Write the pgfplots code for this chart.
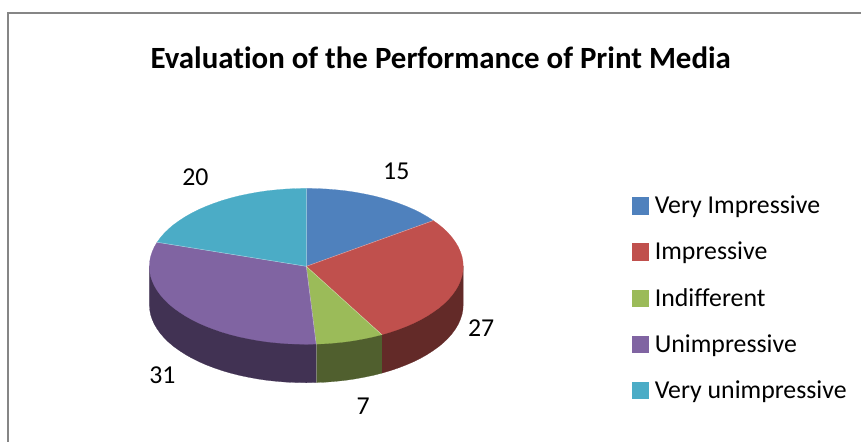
\documentclass[border=0pt]{standalone}
\usepackage{fontspec}
\setmainfont{Carlito}[Ligatures=NoCommon]
\usepackage{pgfplots}
\pgfplotsset{compat=1.18}
\definecolor{sA}{HTML}{4F81BD}
\definecolor{sB}{HTML}{C0504D}
\definecolor{sC}{HTML}{9BBB59}
\definecolor{sD}{HTML}{8064A2}
\definecolor{sE}{HTML}{4BACC6}
\definecolor{wB}{HTML}{632A28}
\definecolor{wC}{HTML}{505F2E}
\definecolor{wD}{HTML}{413253}
\definecolor{fr}{HTML}{868686}
\begin{document}
\begin{tikzpicture}[x=1pt,y=1pt]
\begin{axis}[
  scale only axis, width=862pt, height=442pt,
  xmin=-0.5, xmax=861.5, ymin=-0.5, ymax=441.5, y dir=reverse,
  hide axis, clip=false,
  title={\bfseries Evaluation of the Performance of Print Media},
  title style={at={(axis cs:440.5,63)},anchor=center,font=\fontsize{30.9}{36}\selectfont},
  legend style={draw=none,fill=none,at={(axis cs:631.5,297.5)},anchor=west,
    font=\fontsize{25.8}{30}\selectfont,row sep=20.2pt,inner sep=0pt,
    nodes={inner sep=0pt,anchor=west,minimum height=26pt}},
  legend cell align=left,
  legend image code/.code={\fill[#1] (0pt,-8.2pt) rectangle (16pt,8.2pt);\path[draw=none,fill=none] (0pt,0pt) -- (23pt,0pt);},
]
% page extent
\addplot[draw=none,forget plot] coordinates {(-0.5,-0.5)(861.5,441.5)};
% frame
\addplot[fr,line width=1.1pt,forget plot] coordinates {(7.5,441.5)(7.5,12.5)(861.5,12.5)};
% side walls
\addplot[fill=wB,draw=wB,line width=0.2pt,forget plot] coordinates {(381.6,334.4)(381.6,372.9)(390.1,370.4)(398.3,367.6)(406.1,364.6)(413.5,361.4)(420.5,357.9)(427,354.2)(433,350.3)(438.6,346.3)(443.6,342.1)(448.1,337.7)(452,333.2)(455.3,328.6)(458.1,323.9)(460.2,319.1)(461.8,314.3)(462.7,309.4)(463,304.5)(463,266)} -- cycle;
\addplot[fill=wC,draw=wC,line width=0.2pt,forget plot] coordinates {(315.9,343.8)(315.9,382.3)(325.7,381.9)(335.4,381.1)(345,380.1)(354.5,378.7)(363.8,377)(372.9,375.1)(381.6,372.9)(381.6,334.4)} -- cycle;
\addplot[fill=wD,draw=wD,line width=0.2pt,forget plot] coordinates {(149,266)(149,304.5)(149.3,309.4)(150.2,314.3)(151.8,319.1)(153.9,323.9)(156.7,328.6)(160,333.2)(163.9,337.7)(168.4,342.1)(173.4,346.3)(179,350.3)(185,354.2)(191.5,357.9)(198.5,361.4)(205.9,364.6)(213.7,367.6)(221.9,370.4)(230.4,372.9)(239.1,375.1)(248.2,377)(257.5,378.7)(267,380.1)(276.6,381.1)(286.3,381.9)(296.1,382.3)(306,382.5)(315.9,382.3)(315.9,343.8)} -- cycle;
% top faces: 15, 27, 7, 31, 20 per cent
\addplot[fill=sA,draw=sA,line width=0.2pt] coordinates {(306,266)(306,188)(315.9,188.2)(325.7,188.6)(335.4,189.4)(345,190.4)(354.5,191.8)(363.8,193.5)(372.9,195.4)(381.6,197.6)(390.1,200.1)(398.3,202.9)(406.1,205.9)(413.5,209.1)(420.5,212.6)(427,216.3)(433,220.2)} -- cycle;
\addlegendentry{Very Impressive}
\addplot[fill=sB,draw=sB,line width=0.2pt] coordinates {(306,266)(433,220.2)(438.6,224.2)(443.6,228.4)(448.1,232.8)(452,237.3)(455.3,241.9)(458.1,246.6)(460.2,251.4)(461.8,256.2)(462.7,261.1)(463,266)(462.7,270.9)(461.8,275.8)(460.2,280.6)(458.1,285.4)(455.3,290.1)(452,294.7)(448.1,299.2)(443.6,303.6)(438.6,307.8)(433,311.8)(427,315.7)(420.5,319.4)(413.5,322.9)(406.1,326.1)(398.3,329.1)(390.1,331.9)(381.6,334.4)} -- cycle;
\addlegendentry{Impressive}
\addplot[fill=sC,draw=sC,line width=0.2pt] coordinates {(306,266)(381.6,334.4)(372.9,336.6)(363.8,338.5)(354.5,340.2)(345,341.6)(335.4,342.6)(325.7,343.4)(315.9,343.8)} -- cycle;
\addlegendentry{Indifferent}
\addplot[fill=sD,draw=sD,line width=0.2pt] coordinates {(306,266)(315.9,343.8)(306,344)(296.1,343.8)(286.3,343.4)(276.6,342.6)(267,341.6)(257.5,340.2)(248.2,338.5)(239.1,336.6)(230.4,334.4)(221.9,331.9)(213.7,329.1)(205.9,326.1)(198.5,322.9)(191.5,319.4)(185,315.7)(179,311.8)(173.4,307.8)(168.4,303.6)(163.9,299.2)(160,294.7)(156.7,290.1)(153.9,285.4)(151.8,280.6)(150.2,275.8)(149.3,270.9)(149,266)(149.3,261.1)(150.2,256.2)(151.8,251.4)(153.9,246.6)(156.7,241.9)} -- cycle;
\addlegendentry{Unimpressive}
\addplot[fill=sE,draw=sE,line width=0.2pt] coordinates {(306,266)(156.7,241.9)(160,237.3)(163.9,232.8)(168.4,228.4)(173.4,224.2)(179,220.2)(185,216.3)(191.5,212.6)(198.5,209.1)(205.9,205.9)(213.7,202.9)(221.9,200.1)(230.4,197.6)(239.1,195.4)(248.2,193.5)(257.5,191.8)(267,190.4)(276.6,189.4)(286.3,188.6)(296.1,188.2)(306,188)} -- cycle;
\addlegendentry{Very unimpressive}
% faint seams
\addplot[white,opacity=0.45,line width=0.5pt,forget plot] coordinates {(306,188)(306,266)(433,220.2)};
\addplot[white,opacity=0.45,line width=0.5pt,forget plot] coordinates {(381.6,334.4)(306,266)(315.9,343.8)};
\addplot[white,opacity=0.45,line width=0.5pt,forget plot] coordinates {(156.7,241.9)(306,266)};
\addplot[white,opacity=0.3,line width=0.5pt,forget plot] coordinates {(315.9,343.8)(315.9,382.3)};
% data labels
\addplot[draw=none,forget plot,nodes near coords,point meta=explicit symbolic,
  every node near coord/.style={anchor=center,font=\fontsize{25.8}{30}\selectfont,black}]
  coordinates {(396,171)[15](481,328)[27](363,406)[7](162,375)[31](195,177)[20]};
\end{axis}
\end{tikzpicture}
\end{document}
